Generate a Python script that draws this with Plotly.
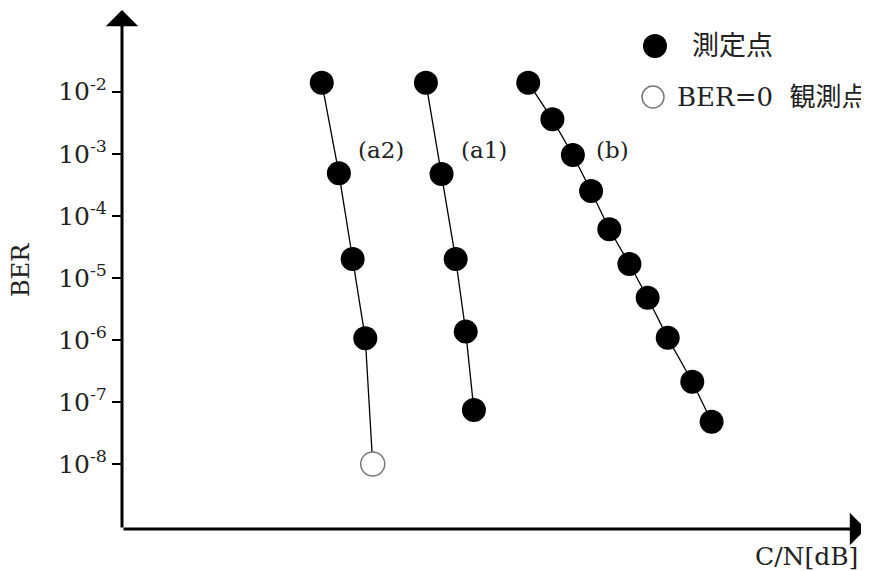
import plotly.graph_objects as go

# C/N [dB] (axis has no tick labels; arbitrary dB scale) and BER values
cn_a2 = [5.37, 5.83, 6.20, 6.54, 6.74]
ber_a2 = [1.40e-2, 4.84e-4, 2.01e-5, 1.06e-6, 1.0e-8]
a2_observed_zero = [False, False, False, False, True]

cn_a1 = [8.17, 8.59, 8.97, 9.24, 9.46]
ber_a1 = [1.40e-2, 4.72e-4, 2.01e-5, 1.36e-6, 7.4e-8]

cn_b = [10.92, 11.57, 12.12, 12.61, 13.10, 13.64, 14.13, 14.67, 15.33, 15.85]
ber_b = [1.40e-2, 3.59e-3, 9.55e-4, 2.51e-4, 6.07e-5, 1.67e-5, 4.79e-6, 1.08e-6, 2.12e-7, 4.81e-8]

tick_vals = [1e-2, 1e-3, 1e-4, 1e-5, 1e-6, 1e-7, 1e-8]
tick_text = ["10<sup>-2</sup>", "10<sup>-3</sup>", "10<sup>-4</sup>", "10<sup>-5</sup>",
             "10<sup>-6</sup>", "10<sup>-7</sup>", "10<sup>-8</sup>"]

curve_labels = ["(a2)", "(a1)", "(b)"]
label_x = [6.95, 9.72, 13.18]
label_y = [-2.94, -2.94, -2.94]

SERIF = "DejaVu Serif, Noto Sans CJK JP"
MS = 24

# plot area in window pixels: x 122..866, y 10..529 (page has an 8px body margin)
PX0, PX1, PY0, PY1 = 122, 866, 10, 529
PW, PH = PX1 - PX0, PY1 - PY0


def px(x):
    return (x - PX0) / PW


def py(y):
    return (PY1 - y) / PH


fig = go.Figure()


def add_series(x, y, zero_flags=None):
    if zero_flags is None:
        zero_flags = [False] * len(x)
    fills = ["white" if z else "black" for z in zero_flags]
    lcols = ["#777777" if z else "black" for z in zero_flags]
    lw = [1.5 if z else 0 for z in zero_flags]
    fig.add_trace(go.Scatter(
        x=x, y=y, mode="lines+markers",
        line=dict(color="black", width=1.3),
        marker=dict(size=MS, color=fills, line=dict(color=lcols, width=lw)),
        showlegend=False, hoverinfo="x+y"))


add_series(cn_a2, ber_a2, a2_observed_zero)
add_series(cn_a1, ber_a1)
add_series(cn_b, ber_b)

annotations = []
for t, x, y in zip(curve_labels, label_x, label_y):
    annotations.append(dict(x=x, y=y, xref="x", yref="y", text=t, showarrow=False,
                            xanchor="center", yanchor="middle",
                            font=dict(family=SERIF, size=23, color="#222")))

# axis arrows
annotations.append(dict(x=0, y=1, xref="paper", yref="paper", text="", showarrow=True,
                        ax=0, ay=PH, axref="pixel", ayref="pixel",
                        arrowhead=1, arrowsize=1.8, arrowwidth=3, arrowcolor="black", standoff=0))
annotations.append(dict(x=1, y=0, xref="paper", yref="paper", text="", showarrow=True,
                        ax=-PW, ay=0, axref="pixel", ayref="pixel",
                        arrowhead=1, arrowsize=1.8, arrowwidth=3, arrowcolor="black", standoff=0))

# axis titles
annotations.append(dict(x=px(806), y=py(556), xref="paper", yref="paper",
                        xanchor="center", yanchor="middle",
                        text="C/N[dB]", showarrow=False,
                        font=dict(family=SERIF, size=25, color="#222")))
annotations.append(dict(x=px(21), y=py(270), xref="paper", yref="paper",
                        xanchor="center", yanchor="middle",
                        text="BER", showarrow=False, textangle=-90,
                        font=dict(family=SERIF, size=24, color="#222")))

# legend texts
annotations.append(dict(x=px(690), y=py(46), xref="paper", yref="paper",
                        xanchor="left", yanchor="middle", text="測定点", showarrow=False,
                        font=dict(family=SERIF, size=27, color="#222")))
annotations.append(dict(x=px(675), y=py(97), xref="paper", yref="paper",
                        xanchor="left", yanchor="middle", text="BER=0  観測点", showarrow=False,
                        font=dict(family=SERIF, size=26, color="#222")))

shapes = [
    dict(type="circle", xref="paper", yref="paper", xsizemode="pixel", ysizemode="pixel",
         xanchor=px(655), yanchor=py(46),
         x0=-12, x1=12, y0=-12, y1=12, fillcolor="black", line=dict(color="black", width=0)),
    dict(type="circle", xref="paper", yref="paper", xsizemode="pixel", ysizemode="pixel",
         xanchor=px(653), yanchor=py(97),
         x0=-11, x1=11, y0=-11, y1=11, fillcolor="white", line=dict(color="#777777", width=1.5)),
]

fig.update_layout(
    width=861, height=563,
    margin=dict(l=PX0 - 8, r=869 - PX1, t=PY0 - 8, b=571 - PY1),
    paper_bgcolor="white", plot_bgcolor="white",
    annotations=annotations, shapes=shapes,
    xaxis=dict(range=[0, 20], showgrid=False, zeroline=False, showline=False,
               showticklabels=False, ticks=""),
    yaxis=dict(type="log", range=[-9.0474, -0.6833], showgrid=False, zeroline=False,
               showline=False, tickmode="array", tickvals=tick_vals, ticktext=tick_text,
               ticks="outside", ticklen=9, tickwidth=1.5, tickcolor="black",
               tickfont=dict(family=SERIF, size=25, color="#222")),
)

fig.write_html("out.html")
